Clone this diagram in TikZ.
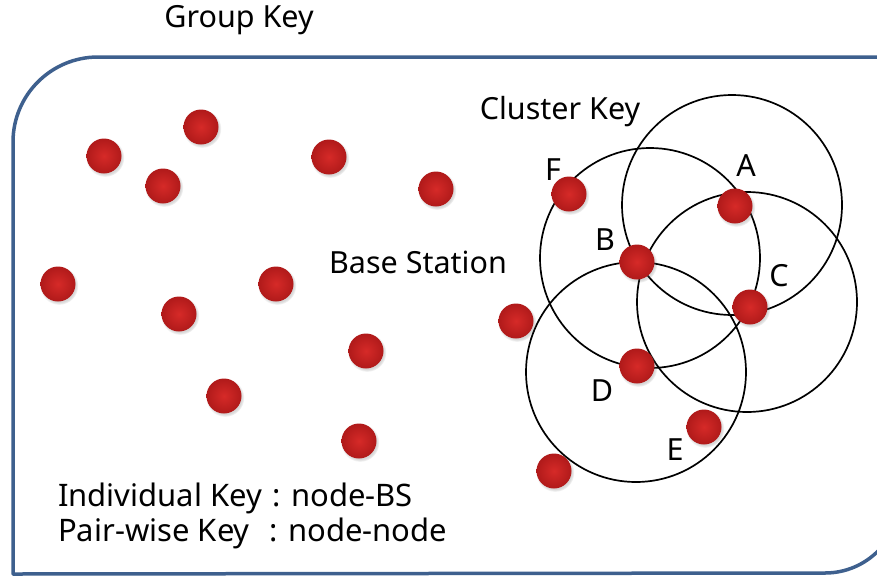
\documentclass[tikz,border=0pt]{standalone}
\usepackage{fontspec}
\setmainfont{Noto Sans}
\usetikzlibrary{shadows}
\definecolor{frameblue}{RGB}{62,96,142}
\definecolor{dotred}{RGB}{214,42,40}
\definecolor{dotrim}{RGB}{176,26,26}
\tikzset{
  sensor/.style={circle, inner sep=0pt, minimum size=35pt,
    inner color=dotred, outer color=dotrim,
    circular drop shadow={shadow xshift=1pt, shadow yshift=-1.5pt, opacity=0.25, fill=black!60}},
  ring/.style={circle, draw=black, line width=1.7pt, inner sep=0pt, minimum size=220pt},
  lbl/.style={inner sep=0pt, font=\fontsize{30.5}{34}\selectfont},
  keytext/.style={inner sep=0pt, anchor=base west, font=\fontsize{31}{36}\selectfont}
}
\begin{document}
\begin{tikzpicture}[x=1pt,y=-1pt]
\useasboundingbox (0,0) rectangle (877,576);
\fill[white] (0,0) rectangle (877,576);

% group boundary
\draw[frameblue, line width=3.5pt, line join=round]
  (13,574) -- (13,142) arc[start angle=180, end angle=270, radius=85]
  -- (900,57) -- (900,498) arc[start angle=0, end angle=90, radius=75]
  -- cycle;

% cluster ranges
\node[ring] (rA) at (732,205) {};
\node[ring] (rB) at (650,258) {};
\node[ring] (rC) at (747,302) {};
\node[ring] (rD) at (636,372) {};

% sensor nodes
\node[sensor] (s1) at (201,127) {};
\node[sensor] (s2) at (104,156) {};
\node[sensor] (s3) at (163,186) {};
\node[sensor] (s4) at (329,157) {};
\node[sensor] (s5) at (436,189) {};
\node[sensor] (s6) at (58,284) {};
\node[sensor] (s7) at (276,284) {};
\node[sensor] (s8) at (179,314) {};
\node[sensor] (s9) at (366,351) {};
\node[sensor] (s10) at (224,396) {};
\node[sensor] (s11) at (359,441) {};
\node[sensor] (s12) at (516,321) {};
\node[sensor] (s13) at (554,471) {};
\node[sensor] (nF) at (569,194) {};
\node[sensor] (nA) at (735,206) {};
\node[sensor] (nB) at (637,262) {};
\node[sensor] (nC) at (750,307) {};
\node[sensor] (nD) at (637,366) {};
\node[sensor] (nE) at (704,427) {};

% labels
\node[lbl] (tGroup) at (239,20) {Group Key};
\node[lbl] (tCluster) at (560,112) {Cluster Key};
\node[lbl] (tBase) at (418,262) {Base Station};
\node[lbl] (tF) at (553,170) {F};
\node[lbl] (tA) at (746,166) {A};
\node[lbl] (tB) at (605,240) {B};
\node[lbl] (tC) at (779,276) {C};
\node[lbl] (tD) at (602,391) {D};
\node[lbl] (tE) at (675,450) {E};

\node[keytext] (tInd) at (58,506) {\makebox[214pt][l]{Individual Key}: node-BS};
\node[keytext] (tPair) at (58,541) {\makebox[211pt][l]{Pair-wise Key}: node-node};
\end{tikzpicture}
\end{document}
